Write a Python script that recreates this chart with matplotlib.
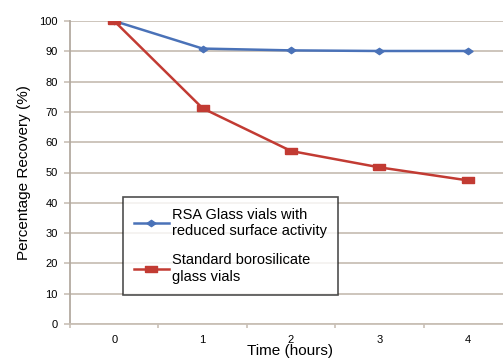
import numpy as np
from matplotlib import pyplot as plt

# data
hours = [0, 1, 2, 3, 4]
hour_labels = ["0", "1", "2", "3", "4"]
rsa_vials = [100, 90.9, 90.3, 90.1, 90.1]
standard_vials = [100, 71.2, 57.1, 51.7, 47.4]

plt.rcParams['font.family'] = ['Liberation Sans Narrow', 'Liberation Sans', 'DejaVu Sans']

fig = plt.figure(figsize=(5.03, 3.6), dpi=100)
ax = fig.add_axes([70 / 503, 36 / 360, 442 / 503, 303 / 360])

grid_col = "#c9c0b6"
ax.set_ylim(0, 100)
ax.set_xlim(-0.5, 4.5)
ax.set_yticks(np.arange(0, 101, 10))
ax.yaxis.grid(True, color=grid_col, linewidth=1.3)
ax.set_axisbelow(True)

# markers are a bit wider than tall in the reference
rect = [(-1, -0.55), (1, -0.55), (1, 0.55), (-1, 0.55), (-1, -0.55)]
diamond = [(-1, 0), (0, 0.7), (1, 0), (0, -0.7), (-1, 0)]

ax.plot(hours, rsa_vials, color="#4a72b8", linewidth=1.8, marker=diamond, markersize=6.5,
        label="RSA Glass vials with\nreduced surface activity")
ax.plot(hours, standard_vials, color="#c23b33", linewidth=1.8, marker=rect, markersize=9,
        label="Standard borosilicate\nglass vials")

# category style ticks: labels at centres, tick marks between
ax.set_xticks(hours)
ax.set_xticklabels(hour_labels, fontsize=8)
ax.set_xticks(np.arange(-0.5, 4.6, 1), minor=True)
ax.tick_params(axis="x", which="major", length=0, pad=8)
ax.tick_params(axis="x", which="minor", length=3, color=grid_col, width=1.2)
ax.tick_params(axis="y", length=4, color=grid_col, width=1.2, labelsize=8, pad=5)

for s in ["top", "right"]:
    ax.spines[s].set_visible(False)
ax.spines["left"].set_color("#b3aaa0")
ax.spines["left"].set_linewidth(1.3)
ax.spines["bottom"].set_color(grid_col)
ax.spines["bottom"].set_linewidth(1.3)

ax.set_ylabel("Percentage Recovery (%)", fontsize=11, labelpad=6)
ax.set_xlabel("Time (hours)", fontsize=11, labelpad=2)
ax.xaxis.set_label_coords((290 - 70) / 442, -0.065)

leg = ax.legend(loc="upper left", bbox_to_anchor=((123 - 70) / 442, (324 - 197) / 303),
                borderaxespad=0, frameon=True, fancybox=False, fontsize=10.5,
                handlelength=2.4, labelspacing=1.05, borderpad=0.75, handletextpad=0.2)
leg.get_frame().set_edgecolor("#222222")
leg.get_frame().set_linewidth(1.2)

fig.savefig("out.png", dpi=100)
